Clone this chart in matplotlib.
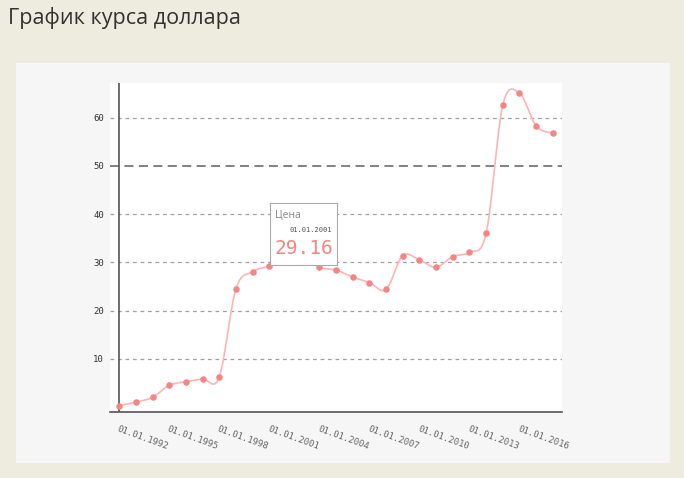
import numpy as np
import matplotlib.pyplot as plt
import matplotlib.transforms as mtransforms
from matplotlib.patches import Rectangle

# Курс доллара на 1 января каждого года
years = list(range(1992, 2019))
rates = [0.25, 0.96, 2.0, 4.48, 5.24, 5.8, 6.2, 24.5, 28.05, 29.16,
         30.1, 31.8, 29.0, 28.4, 26.95, 25.8, 24.4, 31.4, 30.5, 29.0,
         31.2, 32.1, 36.0, 62.6, 65.1, 58.3, 56.8]
tick_labels = ['01.01.%d' % y for y in years[::3]]
yticks = [10, 20, 30, 40, 50, 60]


def catmull_rom(x, y, n=20):
    # гладкая кривая через точки (как в веб-графике)
    px = np.concatenate([[x[0]], x, [x[-1]]])
    py = np.concatenate([[y[0]], y, [y[-1]]])
    xs, ys = [], []
    t = np.linspace(0, 1, n, endpoint=False)
    for i in range(1, len(px) - 2):
        for p, out in ((px, xs), (py, ys)):
            p0, p1, p2, p3 = p[i - 1], p[i], p[i + 1], p[i + 2]
            out.append(0.5 * (2 * p1 + (-p0 + p2) * t
                              + (2 * p0 - 5 * p1 + 4 * p2 - p3) * t ** 2
                              + (-p0 + 3 * p1 - 3 * p2 + p3) * t ** 3))
    xs.append([x[-1]])
    ys.append([y[-1]])
    return np.concatenate(xs), np.concatenate(ys)


fig = plt.figure(figsize=(6.84, 4.78), dpi=100)
fig.patch.set_facecolor('#eeebdf')
fig.patches.append(Rectangle((16 / 684, 15 / 478), 654 / 684, 400 / 478,
                             transform=fig.transFigure, facecolor='#f6f6f6',
                             edgecolor='none', zorder=-5))
fig.text(8 / 684, 1 - 18 / 478, 'График курса доллара', fontsize=15.5,
         family='Open Sans', color='#333333', va='center')

ax = fig.add_axes([110 / 684, 66 / 478, 452 / 684, 329 / 478])
ax.set_facecolor('white')

idx = np.arange(len(years))
sx, sy = catmull_rom(idx.astype(float), np.array(rates))
ax.plot(sx, sy, color='#ffb4b4', lw=1.2, zorder=3)
ax.scatter(idx, rates, s=22, color='#f48585', zorder=4, linewidths=0)

for v in yticks:
    if v == 50:
        ax.axhline(v, color='#777777', lw=1.3, ls=(0, (5, 3)), zorder=1)
    else:
        ax.axhline(v, color='#a0a0a0', lw=0.9, ls=(0, (3, 3)), zorder=1)
ax.axvline(0, color='#555555', lw=1.2, zorder=2)

ax.set_xlim(-0.55, 26.55)
ax.set_ylim(-1.05, 67.2)
ax.set_yticks(yticks)
ax.set_yticklabels([str(v) for v in yticks], family='DejaVu Sans Mono',
                   fontsize=6.5, color='#333333')
ax.set_xticks(idx[::3])
ax.set_xticklabels(tick_labels, rotation=-20, ha='left', va='top',
                   rotation_mode='anchor', family='DejaVu Sans Mono',
                   fontsize=6.5, color='#666666')
shift = mtransforms.ScaledTranslation(3 / 100, 0, fig.dpi_scale_trans)
for lbl in ax.get_xticklabels():
    lbl.set_transform(lbl.get_transform() + shift)
ax.tick_params(axis='both', length=0)
ax.tick_params(axis='y', pad=4.5)
ax.tick_params(axis='x', pad=9)
for side in ['top', 'right', 'left']:
    ax.spines[side].set_visible(False)
ax.spines['bottom'].set_color('#555555')
ax.spines['bottom'].set_linewidth(1.2)

# всплывающая подсказка у точки 2001 года
tip = fig.add_axes([270 / 684, 213 / 478, 67 / 684, 62 / 478])
tip.set_xticks([])
tip.set_yticks([])
tip.set_facecolor('white')
for s in tip.spines.values():
    s.set_color('#aaaaaa')
tip.text(0.07, 0.80, 'Цена', fontsize=7.5, color='#888888', family='Open Sans',
         transform=tip.transAxes, va='center')
tip.text(0.92, 0.56, '01.01.%d' % years[9], fontsize=5, color='#555555',
         family='DejaVu Sans Mono', transform=tip.transAxes, ha='right', va='center')
tip.text(0.50, 0.26, '%.2f' % rates[9], fontsize=14, color='#f48585',
         family='DejaVu Sans Mono', transform=tip.transAxes, ha='center', va='center')

fig.savefig('out.png', dpi=100, facecolor=fig.get_facecolor())
